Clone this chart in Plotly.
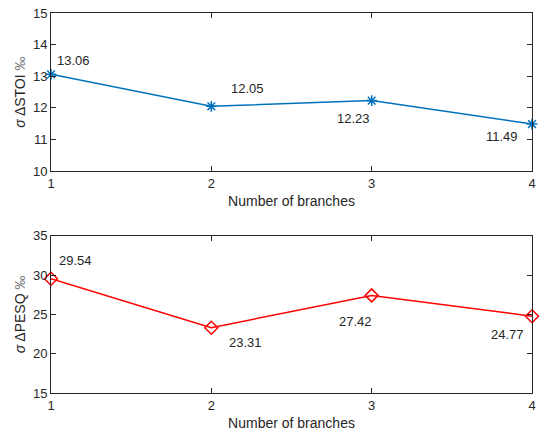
import plotly.graph_objects as go
from plotly.subplots import make_subplots

branches = [1, 2, 3, 4]
stoi = [13.06, 12.05, 12.23, 11.49]
pesq = [29.54, 23.31, 27.42, 24.77]
stoi_labels = ["13.06", "12.05", "12.23", "11.49"]
pesq_labels = ["29.54", "23.31", "27.42", "24.77"]

fig = make_subplots(rows=2, cols=1, vertical_spacing=0.17)

fig.add_trace(go.Scatter(x=branches, y=stoi, mode="lines+markers",
                         line=dict(color="#0072BD", width=1.5),
                         marker=dict(symbol="asterisk-open", size=9,
                                     line=dict(color="#0072BD", width=1.5)),
                         showlegend=False, cliponaxis=False), row=1, col=1)
fig.add_trace(go.Scatter(x=branches, y=pesq, mode="lines+markers",
                         line=dict(color="#FF0000", width=1.5),
                         marker=dict(symbol="diamond-open", size=10,
                                     line=dict(color="#FF0000", width=1.5)),
                         showlegend=False, cliponaxis=False), row=2, col=1)

font = "Liberation Sans, Arial, sans-serif"
tc = "#262626"

# annotation offsets (pixels) for label placement
stoi_off = [(4, -14, "left"), (18, -18, "left"), (0, 18, "right"), (-12, 12, "right")]
pesq_off = [(6, -18, "left"), (16, 15, "left"), (2, 26, "right"), (-6, 18, "right")]

for x, y, t, (dx, dy, anc) in zip(branches, stoi, stoi_labels, stoi_off):
    fig.add_annotation(x=x, y=y, text=t, showarrow=False, xref="x", yref="y",
                       xshift=dx, yshift=-dy, xanchor=anc,
                       font=dict(family=font, size=13, color=tc))
for x, y, t, (dx, dy, anc) in zip(branches, pesq, pesq_labels, pesq_off):
    fig.add_annotation(x=x, y=y, text=t, showarrow=False, xref="x2", yref="y2",
                       xshift=dx, yshift=-dy, xanchor=anc,
                       font=dict(family=font, size=13, color=tc))

axcommon = dict(showline=True, linecolor=tc, linewidth=1, mirror="ticks",
                ticks="inside", ticklen=5, tickcolor=tc, showgrid=False,
                zeroline=False, tickfont=dict(family=font, size=13, color=tc),
                ticklabeloverflow="allow")

fig.update_xaxes(range=[1, 4], tickvals=branches, **axcommon,
                 title=dict(text="Number of branches", standoff=6,
                            font=dict(family=font, size=14, color=tc)))
fig.update_yaxes(range=[10, 15], dtick=1, row=1, col=1, **axcommon,
                 title=dict(text="<i>σ</i> ΔSTOI <span style='color:#777'>‰</span>", standoff=4,
                            font=dict(family=font, size=14, color=tc)))
fig.update_yaxes(range=[15, 35], dtick=5, row=2, col=1, **axcommon,
                 title=dict(text="<i>σ</i> ΔPESQ <span style='color:#777'>‰</span>", standoff=4,
                            font=dict(family=font, size=14, color=tc)))

fig.update_layout(width=542, height=436, margin=dict(l=51, r=6, t=11, b=43),
                  plot_bgcolor="white", paper_bgcolor="white")
fig.layout.yaxis.domain = [0.5838, 1.0]
fig.layout.yaxis2.domain = [0.0, 0.4136]

fig.write_html("out.html", config={"displayModeBar": False},
               post_script="document.body.style.margin='0';document.body.style.overflow='hidden';")
